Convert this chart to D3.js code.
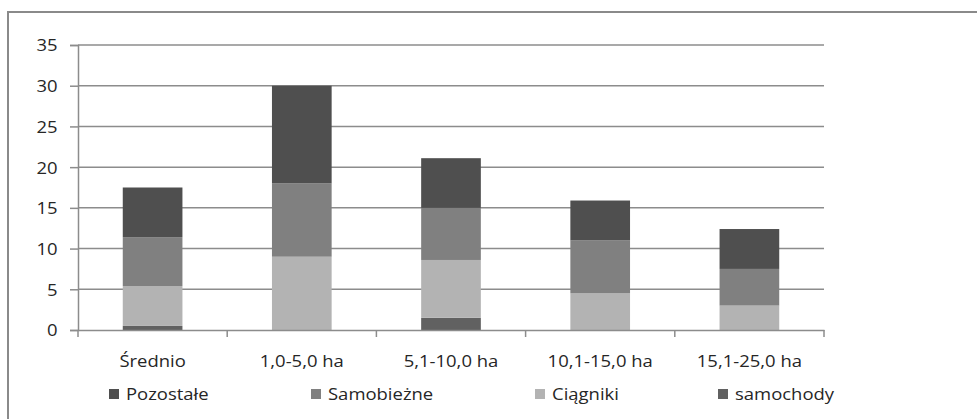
<!DOCTYPE html>
<html>
<head>
<meta charset="utf-8">
<script src="https://cdn.jsdelivr.net/npm/d3@7"></script>
<style>
  body { margin: 0; background: #fff; }
  svg text { font-family: "Open Sans", sans-serif; fill: #262626; }
</style>
</head>
<body>
<div id="chart"></div>
<script>
// dane
const kategorie = ["Średnio", "1,0-5,0 ha", "5,1-10,0 ha", "10,1-15,0 ha", "15,1-25,0 ha"];
const serie = ["samochody", "Ciągniki", "Samobieżne", "Pozostałe"];
const samochody = [0.5, 0, 1.5, 0, 0];
const ciagniki = [4.9, 9.0, 7.1, 4.5, 3.0];
const samobiezne = [6.0, 9.0, 6.4, 6.5, 4.5];
const pozostale = [6.1, 12.0, 6.1, 4.9, 4.9];
const yTicks = [0, 5, 10, 15, 20, 25, 30, 35];
const legendaKolejnosc = ["Pozostałe", "Samobieżne", "Ciągniki", "samochody"];

const kolory = {
  "samochody": "#616161",
  "Ciągniki": "#b3b3b3",
  "Samobieżne": "#808080",
  "Pozostałe": "#4f4f4f"
};

const width = 977, height = 419;
const sx = 1.12; // rozciągnięcie tekstu w poziomie
const fontSize = 16.5;

const svg = d3.select("#chart").append("svg")
  .attr("width", width)
  .attr("height", height);

// ramka
svg.append("path")
  .attr("d", `M8,${height} V12 H${width}`)
  .attr("fill", "none")
  .attr("stroke", "#8a8a8a")
  .attr("stroke-width", 2);

const tabela = kategorie.map((k, i) => ({
  kat: k,
  "samochody": samochody[i],
  "Ciągniki": ciagniki[i],
  "Samobieżne": samobiezne[i],
  "Pozostałe": pozostale[i]
}));

const stos = d3.stack().keys(serie)(tabela);

//Escalas
const xScale = d3.scaleBand()
  .domain(kategorie)
  .range([78, 824])
  .padding(0);

const yScale = d3.scaleLinear()
  .domain([0, 35])
  .range([330, 45]);

const barW = xScale.bandwidth() / 2.5;

// linie siatki
svg.append("g")
  .selectAll("line")
  .data(yTicks.filter(d => d > 0))
  .join("line")
  .attr("x1", 78)
  .attr("x2", 824)
  .attr("y1", d => yScale(d))
  .attr("y2", d => yScale(d))
  .attr("stroke", "#8c8c8c")
  .attr("stroke-width", 1.5);

// słupki
svg.append("g")
  .selectAll("g")
  .data(stos)
  .join("g")
  .attr("fill", d => kolory[d.key])
  .selectAll("rect")
  .data(d => d.filter(p => p[1] - p[0] > 0))
  .join("rect")
  .attr("x", d => xScale(d.data.kat) + (xScale.bandwidth() - barW) / 2)
  .attr("width", barW)
  .attr("y", d => yScale(d[1]))
  .attr("height", d => yScale(d[0]) - yScale(d[1]));

//Eixos
const osY = svg.append("g")
  .attr("transform", "translate(78,0)")
  .call(d3.axisLeft(yScale).tickValues(yTicks).tickSize(8).tickPadding(13));
osY.select(".domain").attr("stroke", "#8c8c8c").attr("stroke-width", 1.5);
osY.selectAll(".tick line").attr("stroke", "#8c8c8c").attr("stroke-width", 1.5);
osY.selectAll("text")
  .style("font-size", fontSize + "px")
  .attr("fill", "#262626")
  .attr("transform", `scale(${sx},1)`)
  .attr("x", -20.5 / sx)
  .attr("dy", "0.36em");

const osX = svg.append("g")
  .attr("transform", "translate(0,330)");
osX.call(d3.axisBottom(xScale).tickSize(0).tickFormat(""))
  .select(".domain").attr("stroke", "#8c8c8c").attr("stroke-width", 1.5);

// kreski kategorii na granicach
osX.selectAll(".kreska")
  .data(d3.range(kategorie.length + 1))
  .join("line")
  .attr("class", "kreska")
  .attr("x1", i => i < kategorie.length ? xScale(kategorie[i]) : xScale.range()[1])
  .attr("x2", i => i < kategorie.length ? xScale(kategorie[i]) : xScale.range()[1])
  .attr("y1", 0)
  .attr("y2", 7)
  .attr("stroke", "#8c8c8c")
  .attr("stroke-width", 1.5);

// etykiety kategorii
svg.append("g")
  .selectAll("text")
  .data(kategorie)
  .join("text")
  .attr("transform", d => `translate(${xScale(d) + xScale.bandwidth() / 2},367) scale(${sx},1)`)
  .attr("text-anchor", "middle")
  .style("font-size", fontSize + "px")
  .text(d => d);

// legenda
const legendaPoz = { "Pozostałe": 109, "Samobieżne": 311, "Ciągniki": 535, "samochody": 718 };

const leg = svg.append("g")
  .selectAll("g")
  .data(legendaKolejnosc)
  .join("g")
  .attr("transform", d => `translate(${legendaPoz[d]},389)`);

leg.append("rect")
  .attr("width", 10)
  .attr("height", 10)
  .attr("fill", d => kolory[d]);

leg.append("text")
  .attr("transform", `translate(17,11) scale(${sx},1)`)
  .style("font-size", fontSize + "px")
  .text(d => d);
</script>
</body>
</html>
